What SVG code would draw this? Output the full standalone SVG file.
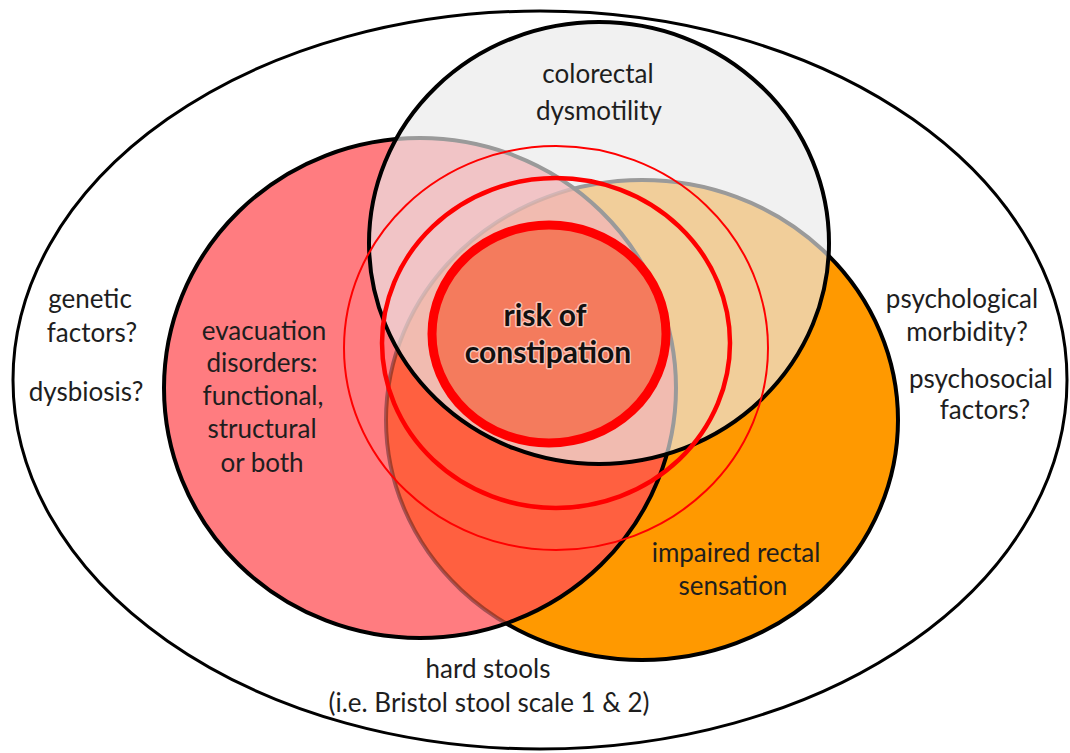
<svg xmlns="http://www.w3.org/2000/svg" width="1070" height="753" viewBox="0 0 1070 753">
<style>
.lbl{font-family:Lato,"Open Sans","Liberation Sans",sans-serif;font-size:26px;fill:#1e1e1e;text-anchor:middle}
.bold{font-weight:bold;font-size:30px;fill:#111;stroke:#ffffff;stroke-opacity:0.55;stroke-width:3px;paint-order:stroke;stroke-linejoin:round}
.edge{fill:none;stroke:#000;stroke-width:4}
.ring{fill:none;stroke:#ff0000}
</style>
<defs>
<clipPath id="clipPink"><ellipse cx="420" cy="388" rx="256" ry="250"/></clipPath>
<clipPath id="clipOrange"><ellipse cx="642" cy="420" rx="256" ry="240"/></clipPath>
</defs>
<rect width="1070" height="753" fill="#ffffff"/>
<g id="outer">
<ellipse cx="540" cy="380" rx="527" ry="369" fill="#ffffff" stroke="#000" stroke-width="3"/>
</g>
<g id="orange">
<ellipse cx="642" cy="420" rx="256" ry="240" fill="#ff9900" stroke="#000" stroke-width="4"/>
</g>
<g id="pink">
<ellipse cx="420" cy="388" rx="256" ry="250" fill="#ff7c80"/>
<ellipse cx="420" cy="388" rx="256" ry="250" fill="#ff6040" clip-path="url(#clipOrange)"/>
<ellipse cx="642" cy="420" rx="256" ry="240" fill="none" stroke="#000" stroke-opacity="0.35" stroke-width="4" clip-path="url(#clipPink)"/>
<ellipse cx="420" cy="388" rx="256" ry="250" class="edge"/>
</g>
<g id="grey">
<ellipse cx="599" cy="243" rx="230" ry="221" fill="#e9e9e9" fill-opacity="0.66" stroke="#000" stroke-width="4"/>
</g>
<g id="risk-rings">
<ellipse cx="556" cy="348" rx="212" ry="202" class="ring" stroke-width="2"/>
<ellipse cx="556" cy="343" rx="174" ry="165" class="ring" stroke-width="4.5"/>
<ellipse cx="549" cy="334" rx="117" ry="109" fill="#f47b5d" stroke="#ff0000" stroke-width="9"/>
</g>
<g id="labels">
<text class="lbl" x="598" y="83">colorectal</text>
<text class="lbl" x="599" y="120">dysmotility</text>
<text class="lbl" x="264" y="340">evacuation</text>
<text class="lbl" x="262" y="372">disorders:</text>
<text class="lbl" x="263" y="405">functional,</text>
<text class="lbl" x="262" y="438">structural</text>
<text class="lbl" x="262" y="472">or both</text>
<text class="lbl bold" x="545" y="326">risk of</text>
<text class="lbl bold" x="548" y="363">constipation</text>
<text class="lbl" x="736" y="562">impaired rectal</text>
<text class="lbl" x="733" y="595">sensation</text>
<text class="lbl" x="90" y="308">genetic</text>
<text class="lbl" x="92" y="342">factors?</text>
<text class="lbl" x="86" y="401">dysbiosis?</text>
<text class="lbl" x="962" y="308">psychological</text>
<text class="lbl" x="967" y="341">morbidity?</text>
<text class="lbl" x="981" y="388">psychosocial</text>
<text class="lbl" x="985" y="419">factors?</text>
<text class="lbl" x="488" y="678">hard stools</text>
<text class="lbl" x="489" y="712">(i.e. Bristol stool scale 1 &amp; 2)</text>
</g>
</svg>
